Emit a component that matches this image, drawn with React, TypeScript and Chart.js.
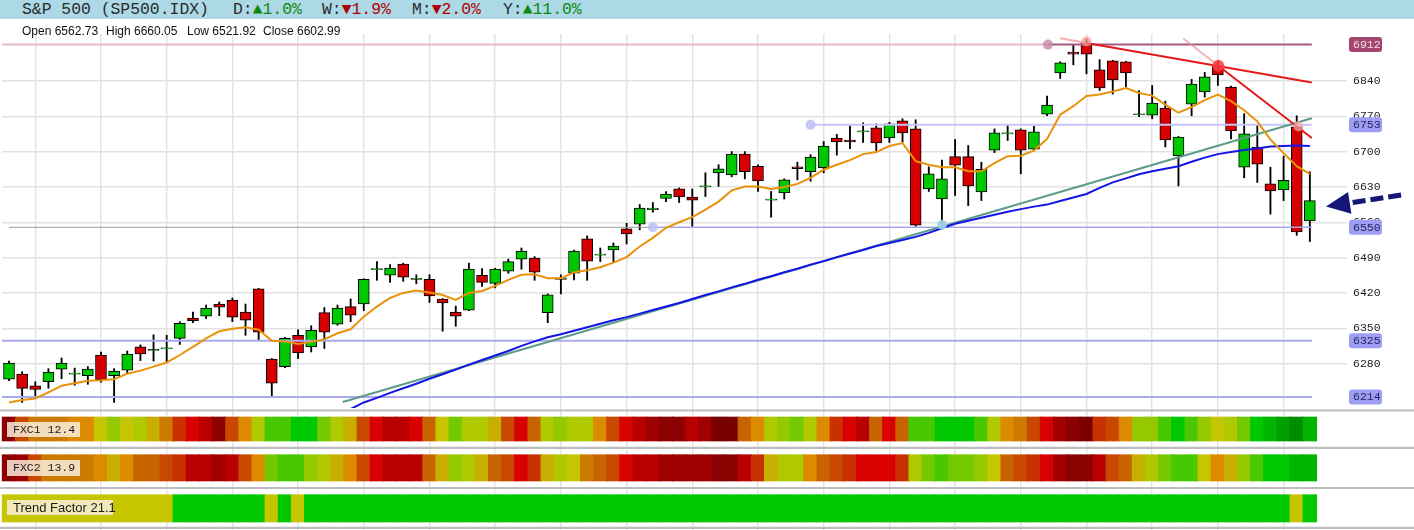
import React, { useEffect, useRef } from "react";
import { Chart, registerables } from "chart.js";

Chart.register(...registerables);

// ---------------- data ----------------
const OPEN = [6249,6259,6236,6244,6269,6259,6256,6297,6256,6267,
6313,6306,6309,6330,6370,6374,6398,6406,6382,6428,
6289,6274,6336,6313,6381,6358,6393,6398,6466,6455,
6477,6447,6447,6408,6382,6386,6455,6439,6463,6487,
6489,6381,6447,6459,6527,6495,6505,6547,6556,6585,
6607,6626,6610,6630,6658,6654,6695,6671,6604,6618,
6670,6660,6668,6727,6723,6739,6747,6727,6761,6745,
6626,6606,6690,6690,6620,6703,6735,6743,6705,6774,
6856,6897,6915,6862,6880,6878,6773,6772,6786,6692,
6794,6818,6870,6828,6669,6709,6636,6624,6749,6562.73];

const HIGH = [6285,6264,6244,6270,6291,6271,6274,6303,6270,6305,
6317,6337,6336,6363,6382,6396,6402,6410,6398,6429,
6290,6332,6347,6355,6391,6396,6408,6448,6482,6476,
6479,6456,6456,6409,6394,6479,6468,6469,6487,6509,
6492,6418,6456,6505,6533,6509,6519,6558,6595,6599,
6621,6628,6626,6658,6674,6700,6700,6674,6621,6646,
6679,6694,6720,6734,6751,6757,6755,6758,6765,6763,
6670,6683,6724,6712,6679,6745,6753,6745,6750,6810,
6878,6912,6922,6882,6881,6879,6821,6831,6800,6730,
6843,6857,6879,6830,6775,6753,6669,6691,6771,6660.05];

const LOW = [6246,6203,6216,6231,6250,6237,6239,6243,6203,6261,
6286,6285,6284,6318,6361,6369,6375,6363,6336,6327,
6213,6272,6290,6303,6310,6356,6363,6385,6445,6441,
6443,6438,6401,6344,6354,6385,6433,6430,6459,6467,
6445,6361,6418,6446,6445,6482,6482,6517,6545,6580,
6601,6599,6552,6611,6631,6650,6646,6621,6570,6606,
6644,6641,6658,6693,6706,6718,6702,6718,6719,6552,
6621,6555,6613,6593,6603,6698,6722,6656,6704,6771,
6845,6872,6854,6821,6814,6828,6769,6765,6709,6632,
6771,6808,6831,6725,6648,6639,6576,6603,6534,6521.92];

const CLOSE = [6281,6231,6229,6263,6281,6261,6269,6248,6265,6299,
6299,6308,6311,6360,6365,6390,6392,6372,6366,6342,
6241,6330,6301,6346,6342,6390,6376,6447,6468,6469,
6451,6449,6414,6400,6374,6467,6441,6467,6482,6503,
6461,6416,6450,6503,6483,6497,6513,6537,6588,6588,
6616,6610,6604,6632,6666,6695,6660,6642,6606,6644,
6666,6689,6711,6719,6719,6741,6717,6755,6737,6554,
6656,6646,6673,6632,6665,6737,6737,6703,6739,6792,
6876,6893,6893,6826,6842,6856,6775,6796,6723,6729,
6834,6848,6852,6741,6735,6675,6622,6643,6541,6602.99];

// orange short moving average
const MA_FAST = [6203,6208,6211,6223,6236,6241,6246,6247,6249,6260,
6266,6274,6282,6297,6313,6330,6344,6349,6352,6347,
6325,6324,6319,6323,6328,6340,6348,6373,6393,6410,
6420,6425,6421,6416,6406,6420,6424,6434,6446,6456,
6457,6449,6449,6461,6465,6471,6480,6491,6512,6529,
6549,6560,6570,6585,6601,6623,6631,6631,6626,6630,
6636,6648,6664,6674,6683,6695,6699,6711,6717,6681,
6674,6669,6669,6661,6661,6677,6691,6692,6702,6725,
6773,6790,6810,6813,6819,6826,6816,6811,6793,6777,
6788,6802,6813,6800,6782,6760,6724,6697,6671,6656];

// blue long moving average
const MA_SLOW = [null,null,null,null,null,null,null,null,null,null,
null,null,null,null,null,null,null,null,null,null,
null,null,null,null,null,null,6190,6203,6212,6222,
6231,6240,6250,6259,6268,6278,6287,6296,6305,6315,
6324,6332,6338,6345,6352,6359,6366,6372,6379,6386,
6393,6400,6408,6416,6423,6431,6438,6446,6453,6461,
6468,6476,6483,6491,6498,6505,6513,6519,6525,6531,
6539,6548,6557,6563,6569,6575,6581,6586,6591,6595,
6602,6609,6616,6628,6639,6647,6655,6661,6666,6671,
6680,6688,6695,6699,6703,6706,6710,6711,6712,6711];

// trend lines: [startIndex, startValue, endIndex, endValue]
const TREND_UP = [25.4, 6204, 99.15, 6766];
const RESIST_A = [82, 6915, 99.15, 6837];
const RESIST_A_EXT = [80, 6924.5, 82, 6915];
const RESIST_B = [92.03, 6870, 99.15, 6727];
const RESIST_B_EXT = [89.37, 6924, 92.03, 6870];

// horizontal levels
const LEVELS = [6912, 6753, 6550, 6325, 6214];
const LEVEL_START = [79.07, 61, 49, -0.6, -0.6];
const LEVEL_END = 99.15;

// anchor dots
const DOT_IDX = [49, 61, 71, 79.07, 82, 92.03, 98.12];
const DOT_VAL = [6550, 6753, 6555, 6912, 6918, 6870, 6750];

const Y_TICKS = [6280, 6350, 6420, 6490, 6560, 6630, 6700, 6770, 6840];
const GRID_AT = [2, 7, 12, 17, 22, 27, 32, 37, 42, 47, 52, 57, 62, 67, 72, 77, 82, 87, 92, 97];

// heat-map levels (0 = deep red ... 19 = deep green)
const FXC1 = [1,6,8,8,8,9,9,11,13,11,
12,10,8,5,4,3,1,6,9,12,
15,15,16,16,14,12,10,6,4,3,
3,4,7,11,14,12,12,10,6,4,
7,12,13,12,12,9,6,4,3,2,
1,1,3,2,0,0,7,9,12,13,
14,12,9,5,4,3,7,4,7,15,
15,16,16,16,15,12,9,8,6,4,
2,1,0,5,6,9,13,13,15,16,
15,13,11,12,14,16,17,18,19,17];

const FXC2 = [1,2,6,8,8,8,8,9,10,9,
7,7,6,5,3,3,2,3,6,9,
14,15,15,13,12,10,9,6,4,3,
3,3,7,10,13,12,10,7,6,4,
5,10,12,11,8,7,6,4,3,3,
2,2,2,2,1,1,3,5,10,12,
12,9,7,6,5,4,4,4,5,12,
14,15,14,14,13,11,7,6,5,4,
2,1,1,3,6,7,10,12,14,15,
15,11,9,10,13,15,16,16,17,17];

const TREND = [11,11,11,11,11,11,11,11,11,11,
11,11,11,16,16,16,16,16,16,16,
11,16,11,16,16,16,16,16,16,16,
16,16,16,16,16,16,16,16,16,16,
16,16,16,16,16,16,16,16,16,16,
16,16,16,16,16,16,16,16,16,16,
16,16,16,16,16,16,16,16,16,16,
16,16,16,16,16,16,16,16,16,16,
16,16,16,16,16,16,16,16,16,16,
16,16,16,16,16,16,16,16,11,16];

const ARROW_TIP = 6591;
const ARROW_TAIL = 6615;

// ---------------- styles ----------------
const PALETTE = ["#7a0000","#8b0000","#a00000","#b80000","#d80000","#c83000","#c84800","#c86400","#cc7a00","#dc8a00",
"#c8ae00","#c6c600","#b0c800","#94c800","#74c800","#48c800","#00c800","#00b400","#00a000","#008c00"];
const UP = "#00c800";
const DOWN = "#d60000";
const DOT_COLORS = ["rgba(190,190,248,0.85)","rgba(190,190,248,0.85)","rgba(160,210,236,0.9)","rgba(196,140,170,0.8)","rgba(246,150,150,0.7)","rgba(255,60,60,0.85)","rgba(246,170,170,0.7)"];
const DOT_R = [5, 5, 5, 5, 5, 6, 5];
const LEVEL_LINE_COLORS = ["#a65a80", "#c6c6f8", "#a6a6f0", "#aaaaf2", "#aaaaf2"];
const STEP = 13.14;
const X0 = 9;
const px2i = (px: number) => (px - X0) / STEP;
const Y_MIN = 6192;
const Y_MAX = 6933;
const GRID_COLOR = "#e2e2e2";

const seg = (a: number[], color: string, width: number, order: number) => ({
  type: "line" as const,
  data: [{ x: a[0], y: a[1] }, { x: a[2], y: a[3] }],
  borderColor: color,
  borderWidth: width,
  pointRadius: 0,
  order,
});

const levelPlugin = {
  id: "levelBoxes",
  afterDraw(chart: any) {
    const { ctx, chartArea } = chart;
    const y = chart.scales.y;
    ctx.save();
    ctx.font = '11.5px "Liberation Mono"';
    ctx.textBaseline = "middle";
    LEVELS.forEach((v, k) => {
      const py = y.getPixelForValue(v);
      const x0 = chartArea.right + 2;
      ctx.beginPath();
      ctx.roundRect(x0, py - 7.5, 33, 15, 3);
      ctx.fillStyle = k === 0 ? "#a3456f" : "#9e9ef4";
      ctx.fill();
      ctx.fillStyle = k === 0 ? "#f6dbe6" : "#26265a";
      ctx.fillText(String(v), x0 + 4, py + 0.5);
    });
    // dashed arrow pointing to the last bar
    const tx = chartArea.right - 21;
    const ty = y.getPixelForValue(ARROW_TIP);
    const sx = chartArea.right + 57;
    const sy = y.getPixelForValue(ARROW_TAIL);
    const len = Math.hypot(sx - tx, sy - ty);
    const dx = (sx - tx) / len, dy = (sy - ty) / len;
    const nx = -dy, ny = dx;
    const bx = tx + 24 * dx, by = ty + 24 * dy;
    ctx.fillStyle = "#16167a";
    ctx.beginPath();
    ctx.moveTo(tx, ty);
    ctx.lineTo(bx + 11 * nx, by + 11 * ny);
    ctx.lineTo(bx - 11 * nx, by - 11 * ny);
    ctx.closePath();
    ctx.fill();
    ctx.strokeStyle = "#16167a";
    ctx.lineWidth = 5;
    ctx.setLineDash([13, 5]);
    ctx.beginPath();
    ctx.moveTo(bx + 3 * dx, by + 3 * dy);
    ctx.lineTo(sx, sy);
    ctx.stroke();
    ctx.restore();
  },
};

export default function App() {
  const mainRef = useRef<HTMLCanvasElement | null>(null);
  const heatRef = useRef<HTMLCanvasElement | null>(null);

  useEffect(() => {
    const idx = OPEN.map((_, i) => i);
    const datasets: any[] = [];

    datasets.push({
      type: "line",
      data: DOT_IDX.map((x, k) => ({ x, y: DOT_VAL[k] })),
      showLine: false,
      pointRadius: DOT_R,
      pointBackgroundColor: DOT_COLORS,
      pointBorderWidth: 0,
      order: 0,
    });
    datasets.push(seg(RESIST_A, "#e41a1a", 2, 1));
    datasets.push(seg(RESIST_B, "#e41a1a", 2, 1));
    datasets.push(seg(RESIST_A_EXT, "rgba(240,140,140,0.7)", 2, 1));
    datasets.push(seg(RESIST_B_EXT, "rgba(240,150,150,0.7)", 2, 1));
    datasets.push({
      type: "line",
      data: idx.map((i) => ({ x: i, y: MA_FAST[i] })),
      borderColor: "#e8920c",
      borderWidth: 2,
      pointRadius: 0,
      order: 2,
    });
    datasets.push({
      type: "line",
      data: idx.filter((i) => MA_SLOW[i] != null).map((i) => ({ x: i, y: MA_SLOW[i] })),
      borderColor: "#1414e6",
      borderWidth: 2,
      pointRadius: 0,
      order: 2,
    });
    datasets.push(seg(TREND_UP, "#5c9c88", 2, 2));
    // level lines
    datasets.push(seg([-0.6, LEVELS[0], LEVEL_START[0], LEVELS[0]], "#e8b8c8", 2, 4));
    datasets.push(seg([0, LEVELS[2], LEVEL_START[2], LEVELS[2]], "#9a9a9a", 1, 4));
    LEVELS.forEach((v, k) => {
      datasets.push(seg([LEVEL_START[k], v, LEVEL_END, v], LEVEL_LINE_COLORS[k], k === 2 ? 1.5 : 2, 4));
    });
    // candle bodies
    datasets.push({
      type: "bar",
      data: idx.map((i) => ({ x: i, y: [OPEN[i], CLOSE[i]] })),
      backgroundColor: idx.map((i) => (CLOSE[i] >= OPEN[i] ? UP : DOWN)),
      borderColor: "#000",
      borderWidth: 1,
      borderSkipped: false,
      barThickness: 11,
      grouped: false,
      order: 5,
    });
    // wicks
    datasets.push({
      type: "bar",
      data: idx.map((i) => ({ x: i, y: [LOW[i], HIGH[i]] })),
      backgroundColor: "#000",
      borderWidth: 0,
      barThickness: 1.2,
      grouped: false,
      order: 6,
    });

    const main = new Chart(mainRef.current as HTMLCanvasElement, {
      type: "bar",
      data: { datasets },
      options: {
        responsive: false,
        animation: false,
        events: [],
        layout: { autoPadding: false, padding: { top: 34, left: 2, right: 0, bottom: 0 } },
        plugins: { legend: { display: false }, tooltip: { enabled: false } },
        scales: {
          x: {
            type: "linear",
            min: px2i(2),
            max: px2i(1347),
            offset: false,
            grid: { offset: false, color: GRID_COLOR, lineWidth: 1.4, drawTicks: false },
            border: { display: false },
            ticks: { display: false },
            afterBuildTicks: (s: any) => {
              s.ticks = GRID_AT.map((v) => ({ value: v }));
            },
            afterFit: (s: any) => {
              s.height = 0;
              s.paddingLeft = 0;
              s.paddingRight = 0;
            },
          },
          y: {
            position: "right",
            min: Y_MIN,
            max: Y_MAX,
            grid: { color: GRID_COLOR, lineWidth: 1.4, drawTicks: false },
            border: { display: false },
            ticks: {
              padding: 6,
              color: "#222",
              font: { family: "Liberation Mono", size: 11.5 },
              callback: (v: any) => String(v),
            },
            afterBuildTicks: (s: any) => {
              s.ticks = Y_TICKS.map((v) => ({ value: v }));
            },
            afterFit: (s: any) => {
              s.width = 67;
              s.paddingTop = 0;
              s.paddingBottom = 0;
            },
          },
        },
      } as any,
      plugins: [levelPlugin],
    } as any);

    // heat map rows
    const row = (levels: number[], top: number, bottom: number) => ({
      type: "bar",
      data: levels.map((_, i) => ({ x: i, y: [top, bottom] })),
      backgroundColor: levels.map((lv) => PALETTE[lv]),
      borderWidth: 0,
      barThickness: 13.7,
      grouped: false,
      order: 2,
    });
    const hx0 = px2i(0);
    const hx1 = px2i(1414);
    const sep = (yv: number) => ({
      type: "line",
      data: [{ x: hx0, y: yv }, { x: hx1, y: yv }],
      borderColor: "#bdbdbd",
      borderWidth: 2.2,
      pointRadius: 0,
      order: 1,
    });
    const heat = new Chart(heatRef.current as HTMLCanvasElement, {
      type: "bar",
      data: {
        datasets: [
          sep(2.5), sep(39.8), sep(80), sep(119.8),
          row(FXC1, 9, 33),
          row(FXC2, 46.7, 73),
          row(TREND, 86.7, 114),
        ],
      },
      options: {
        responsive: false,
        animation: false,
        events: [],
        layout: { autoPadding: false, padding: 0 },
        plugins: { legend: { display: false }, tooltip: { enabled: false } },
        scales: {
          x: {
            type: "linear",
            min: hx0,
            max: hx1,
            offset: false,
            grid: { offset: false, color: GRID_COLOR, lineWidth: 1.4, drawTicks: false },
            border: { display: false },
            ticks: { display: false },
            afterBuildTicks: (s: any) => {
              s.ticks = GRID_AT.map((v) => ({ value: v }));
            },
            afterFit: (s: any) => {
              s.height = 0;
              s.paddingLeft = 0;
              s.paddingRight = 0;
            },
          },
          y: { display: false, min: 0, max: 122, reverse: true },
        },
      } as any,
    } as any);

    return () => {
      main.destroy();
      heat.destroy();
    };
  }, []);

  const mono = '"Liberation Mono", "DejaVu Sans Mono", monospace';
  const sans = '"Liberation Sans", Arial, sans-serif';
  const hdr: React.CSSProperties = {
    position: "absolute", top: 0, height: 19, lineHeight: "19px",
    fontFamily: mono, fontSize: 16.4, color: "#2a2a2a", whiteSpace: "pre",
  };
  const ohlc: React.CSSProperties = {
    position: "absolute", top: 24, lineHeight: "15px", fontFamily: sans, fontSize: 12, color: "#111", whiteSpace: "pre",
  };
  const g = { color: "#0a8a0a" };
  const r = { color: "#b00000" };
  const boxStyle: React.CSSProperties = {
    position: "absolute", left: 7, background: "rgba(250,240,222,0.84)",
    color: "#1a1a1a", whiteSpace: "pre", paddingLeft: 6, boxSizing: "border-box",
  };

  return (
    <div style={{ position: "fixed", left: 0, top: 0, width: 1414, height: 530, background: "#fff", overflow: "hidden" }}>
      <canvas ref={mainRef} width={1414} height={408} style={{ position: "absolute", left: 0, top: 0, width: 1414, height: 408 }} />
      <canvas ref={heatRef} width={1414} height={122} style={{ position: "absolute", left: 0, top: 408, width: 1414, height: 122 }} />
      <div style={{ position: "absolute", left: 0, top: 0, width: 1414, height: 19, background: "#add8e6" }} />
      <div style={{ ...hdr, left: 22 }}>S&amp;P 500 (SP500.IDX)</div>
      <div style={{ ...hdr, left: 233 }}>D:<span style={g}>▲1.0%</span></div>
      <div style={{ ...hdr, left: 322 }}>W:<span style={r}>▼1.9%</span></div>
      <div style={{ ...hdr, left: 412 }}>M:<span style={r}>▼2.0%</span></div>
      <div style={{ ...hdr, left: 503 }}>Y:<span style={g}>▲11.0%</span></div>
      <div style={{ ...ohlc, left: 22 }}>Open 6562.73</div>
      <div style={{ ...ohlc, left: 106 }}>High 6660.05</div>
      <div style={{ ...ohlc, left: 187 }}>Low 6521.92</div>
      <div style={{ ...ohlc, left: 263 }}>Close 6602.99</div>
      <div style={{ ...boxStyle, top: 422, width: 73, height: 15, lineHeight: "15px", fontFamily: mono, fontSize: 11.5 }}>FXC1 12.4</div>
      <div style={{ ...boxStyle, top: 460, width: 73, height: 16, lineHeight: "16px", fontFamily: mono, fontSize: 11.5 }}>FXC2 13.9</div>
      <div style={{ ...boxStyle, top: 500, width: 106, height: 15, lineHeight: "15px", fontFamily: sans, fontSize: 13 }}>Trend Factor 21.1</div>
    </div>
  );
}
